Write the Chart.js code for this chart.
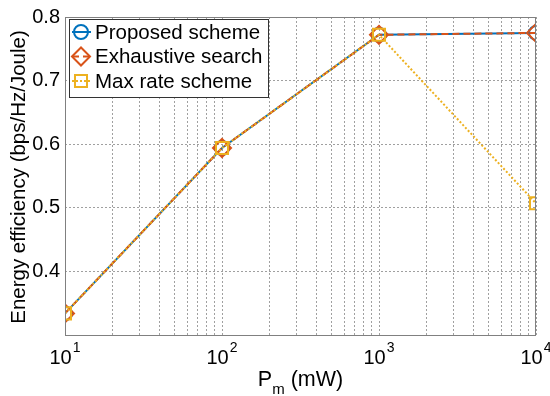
<!DOCTYPE html>
<html><head><meta charset="utf-8">
<script src="https://cdn.jsdelivr.net/npm/chart.js@4/dist/chart.umd.min.js"></script>
<style>html,body{margin:0;padding:0;background:#fff;overflow:hidden}</style>
</head><body>
<canvas id="c" width="550" height="396"></canvas>
<script>
// ---- data ----
const powerMW = [10, 100, 1000, 10000];
const proposed = [0.334, 0.594, 0.772, 0.775];
const exhaustive = [0.334, 0.594, 0.772, 0.775];
const maxRate = [0.334, 0.594, 0.772, 0.507];
const seriesNames = ['Proposed scheme', 'Exhaustive search', 'Max rate scheme'];
const yTickValues = [0.4, 0.5, 0.6, 0.7, 0.8];
const xTickBase = ['10', '10', '10', '10'];
const xTickExp = ['1', '2', '3', '4'];
const xMajor = [10, 100, 1000, 10000];
const xTitleMain = 'P';
const xTitleSub = 'm';
const xTitleRest = ' (mW)';
const yTitle = 'Energy efficiency (bps/Hz/Joule)';

const FONT = '"Liberation Sans", Arial, Helvetica, sans-serif';
const BLUE = '#0072BD', ORANGE = '#D95319', YELLOW = '#EDB120';

const pts = arr => powerMW.map((x, i) => ({x, y: arr[i]}));

const styles = [
  {color: BLUE, dash: [], pointStyle: 'circle', radius: 7, order: 3},
  {color: ORANGE, dash: [7, 4], pointStyle: 'rectRot', radius: 9, order: 2},
  {color: YELLOW, dash: [2, 2], pointStyle: 'rect', radius: 8.5, order: 1}
];
const series = [proposed, exhaustive, maxRate];

const datasets = series.map((s, i) => ({
  label: seriesNames[i],
  data: pts(s),
  borderColor: styles[i].color,
  backgroundColor: 'rgba(0,0,0,0)',
  borderWidth: 2,
  borderDash: styles[i].dash,
  pointStyle: styles[i].pointStyle,
  pointRadius: styles[i].radius,
  pointHoverRadius: styles[i].radius,
  pointBorderWidth: 2,
  pointBorderColor: styles[i].color,
  pointBackgroundColor: 'rgba(0,0,0,0)',
  fill: false,
  tension: 0,
  order: styles[i].order
}));

const decorPlugin = {
  id: 'decor',
  afterDraw(chart) {
    const ctx = chart.ctx, a = chart.chartArea;
    const xs = chart.scales.x;
    ctx.save();
    // axes box
    ctx.strokeStyle = '#808080';
    ctx.lineWidth = 1;
    ctx.setLineDash([]);
    ctx.strokeRect(Math.round(a.left) + 0.5, Math.round(a.top) + 0.5,
      Math.round(a.right - a.left) - 1, Math.round(a.bottom - a.top));
    // x tick labels with superscripts
    ctx.fillStyle = '#000';
    ctx.textBaseline = 'alphabetic';
    ctx.textAlign = 'left';
    xMajor.forEach((v, i) => {
      const px = xs.getPixelForValue(v);
      ctx.font = '20px ' + FONT;
      const wb = ctx.measureText(xTickBase[i]).width;
      ctx.font = '14px ' + FONT;
      const we = ctx.measureText(xTickExp[i]).width;
      const start = px - (wb + we + 1) / 2;
      ctx.font = '20px ' + FONT;
      ctx.fillText(xTickBase[i], start, 364);
      ctx.font = '14px ' + FONT;
      ctx.fillText(xTickExp[i], start + wb + 1, 352);
    });
    // x title with subscript
    ctx.font = '21.5px ' + FONT;
    const w1 = ctx.measureText(xTitleMain).width;
    const w3 = ctx.measureText(xTitleRest).width;
    ctx.font = '15px ' + FONT;
    const w2 = ctx.measureText(xTitleSub).width;
    const cx = (a.left + a.right) / 2;
    const sx = cx - (w1 + w2 + w3) / 2;
    ctx.font = '21.5px ' + FONT;
    ctx.fillText(xTitleMain, sx, 386);
    ctx.font = '15px ' + FONT;
    ctx.fillText(xTitleSub, sx + w1, 394);
    ctx.font = '21.5px ' + FONT;
    ctx.fillText(xTitleRest, sx + w1 + w2, 386);
    // y title
    ctx.save();
    ctx.translate(19, (a.top + a.bottom) / 2 + 1);
    ctx.rotate(-Math.PI / 2);
    ctx.textAlign = 'center';
    ctx.textBaseline = 'middle';
    ctx.font = '20.5px ' + FONT;
    ctx.fillText(yTitle, 0, 0);
    ctx.restore();
    // legend
    const lx = 69.5, ly = 19.5, lw = 199, lh = 78;
    ctx.fillStyle = '#fff';
    ctx.fillRect(lx, ly, lw, lh);
    ctx.strokeStyle = '#333';
    ctx.lineWidth = 1;
    ctx.strokeRect(lx, ly, lw, lh);
    chart.data.datasets.forEach((ds, i) => {
      const yy = 32 + i * 24.5;
      const mx = 81;
      ctx.strokeStyle = ds.borderColor;
      ctx.lineWidth = 2;
      ctx.setLineDash(ds.borderDash);
      ctx.beginPath();
      ctx.moveTo(72, yy);
      ctx.lineTo(91, yy);
      ctx.stroke();
      ctx.setLineDash([]);
      ctx.fillStyle = 'rgba(0,0,0,0)';
      ctx.strokeStyle = ds.borderColor;
      ctx.lineWidth = 2;
      Chart.helpers.drawPoint(ctx, {pointStyle: ds.pointStyle, radius: ds.pointRadius, borderWidth: 2, rotation: 0}, mx, yy);
      ctx.fillStyle = '#000';
      ctx.font = '20.5px ' + FONT;
      ctx.textAlign = 'left';
      ctx.textBaseline = 'middle';
      ctx.fillText(ds.label, 95, yy + 1);
    });
    ctx.restore();
  }
};

new Chart(document.getElementById('c'), {
  type: 'line',
  data: {datasets},
  options: {
    responsive: false,
    animation: false,
    devicePixelRatio: 1,
    layout: {padding: {left: 0, top: 14, right: 14, bottom: 0}},
    plugins: {legend: {display: false}, tooltip: {enabled: false}},
    scales: {
      x: {
        type: 'logarithmic',
        min: 10, max: 10000,
        afterFit: s => { s.height = 61; },
        afterBuildTicks: s => {
          const t = [];
          for (let d = 10; d < 10000; d *= 10) for (let k = 1; k < 10; k++) t.push({value: d * k});
          t.push({value: 10000});
          s.ticks = t;
        },
        ticks: {display: true, callback: () => '', font: {size: 1}},
        grid: {color: '#a0a0a0', lineWidth: 1, drawTicks: false},
        border: {display: false, dash: [2, 2]}
      },
      y: {
        min: 0.3, max: 0.8,
        afterFit: s => { s.width = 65; },
        afterBuildTicks: s => {
          s.ticks = [{value: 0.3}].concat(yTickValues.map(v => ({value: v})));
        },
        ticks: {
          color: '#000',
          font: {size: 20, family: FONT},
          padding: 5,
          callback: v => (Math.abs(v - 0.3) < 1e-9 ? '' : v.toFixed(1))
        },
        grid: {color: '#a0a0a0', lineWidth: 1, drawTicks: false},
        border: {display: false, dash: [2, 2]}
      }
    }
  },
  plugins: [decorPlugin]
});
</script>
</body></html>
